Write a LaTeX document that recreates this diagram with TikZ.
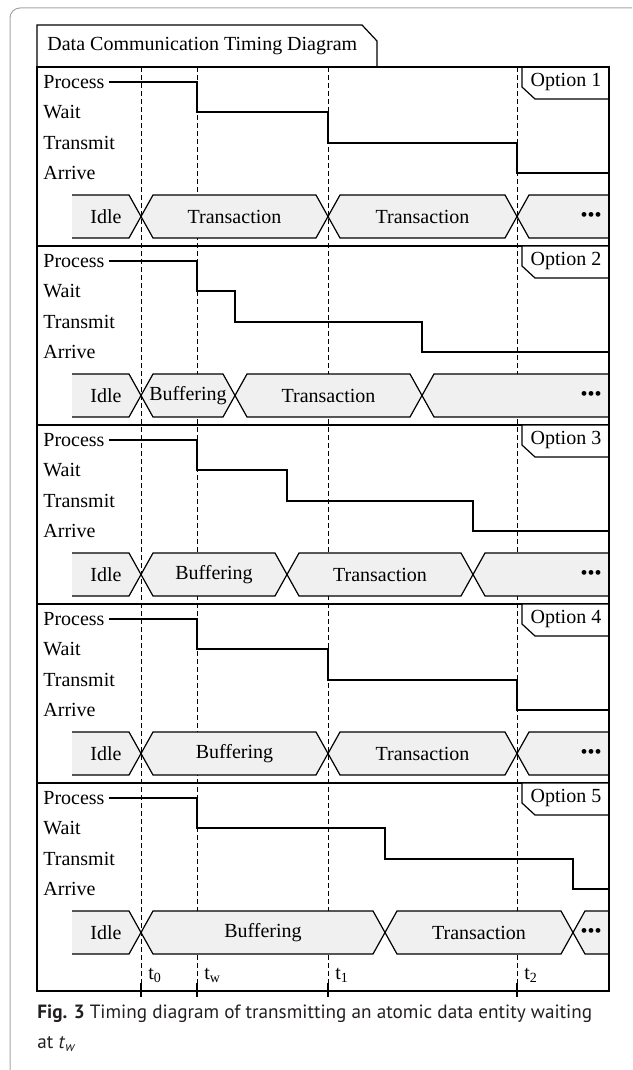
\documentclass[tikz,border=0pt]{standalone}
\usepackage{fontspec}
\setmainfont{Liberation Serif}
\newfontfamily\capfont{PT Sans}
\usetikzlibrary{positioning}

\definecolor{boxgray}{RGB}{240,240,240}
\definecolor{captext}{RGB}{35,31,32}

\tikzset{
	frameline/.style={line width=0.6pt},
	levelline/.style={line width=1.1pt},
	timeline/.style={line width=0.5pt, dash pattern=on 2.5pt off 1.5pt},
	hexbox/.style={fill=boxgray, draw, line width=0.6pt},
	siglabel/.style={anchor=west, inner sep=0pt},
}

\begin{document}
\begin{tikzpicture}[x=0.5pt, y=-0.5pt, font=\fontsize{10}{12}\selectfont]
	\useasboundingbox (0,0) rectangle (632,1070);
	\clip (0,0) rectangle (632,1070);
	% page border
	\draw[gray!70, line width=0.5pt, rounded corners=5pt] (10,8) rectangle (680,1120);

	% time markers
	\foreach \t/\x in {0/141, w/197, 1/328, 2/517} {
		\draw[timeline] (\x,67) -- (\x,983);
		\draw[frameline] (\x,983) -- (\x,997);
		\node[siglabel] (t\t) at (\x+7,975) {t\textsubscript{\t}};
	}

	% header
	\draw[frameline] (37,67) -- (37,25) -- (362,25) -- (377,41) -- (377,67);
	\node[siglabel] (title) at (47,46) {Data Communication Timing Diagram};

	% one panel per option
	\foreach \k/\xb/\xc/\nb in {1/328/517/Transaction, 2/235/422/Buffering, 3/287/473/Buffering, 4/328/517/Buffering, 5/385/573/Buffering} {
		\pgfmathsetmacro\py{67+179*(\k-1)}
		\pgfmathsetmacro\hm{\py+149.5}
		\draw[frameline] (37,\py) -- (609,\py);
		% state labels
		\node[siglabel] (proc\k) at (43,\py+15) {Process};
		\node[siglabel] (wait\k) at (43,\py+45) {Wait};
		\node[siglabel] (trans\k) at (43,\py+76) {Transmit};
		\node[siglabel] (arr\k) at (43,\py+106) {Arrive};
		\draw[levelline] ([xshift=2pt]proc\k.east) -- (197,\py+15) |- (\xb,\py+45)
			|- (\xc,\py+76) |- (609,\py+106);
		% bus row
		\fill[boxgray] (72,\py+128) -- (129,\py+128) -- (141,\hm) -- (129,\py+171) -- (72,\py+171) -- cycle;
		\draw[frameline] (72,\py+128) -- (129,\py+128) -- (141,\hm) -- (129,\py+171) -- (72,\py+171);
		\draw[hexbox] (141,\hm) -- (153,\py+128) -- (\xb-12,\py+128) -- (\xb,\hm)
			-- (\xb-12,\py+171) -- (153,\py+171) -- cycle;
		\draw[hexbox] (\xb,\hm) -- (\xb+12,\py+128) -- (\xc-12,\py+128) -- (\xc,\hm)
			-- (\xc-12,\py+171) -- (\xb+12,\py+171) -- cycle;
		\fill[boxgray] (\xc,\hm) -- (\xc+12,\py+128) -- (609,\py+128) -- (609,\py+171) -- (\xc+12,\py+171) -- cycle;
		\draw[frameline] (609,\py+128) -- (\xc+12,\py+128) -- (\xc,\hm) -- (\xc+12,\py+171) -- (609,\py+171);
		\node (idle\k) at (106,\hm) {Idle};
		\node (first\k) at ({(141+\xb)/2},\hm) {\nb};
		\node (second\k) at ({(\xb+\xc)/2},\hm) {Transaction};
		\node[anchor=east, inner sep=0pt] (more\k) at (602,\hm) {\textbullet\textbullet\textbullet};
		% option tag
		\draw[frameline, fill=white] (609,\py) -- (522,\py) -- (522,\py+20) -- (535,\py+32) -- (609,\py+32);
		\node (opt\k) at (566,\py+15) {Option \k};
	}

	\draw[frameline] (37,67) rectangle (609,991);

	\node[anchor=north west, align=left, inner sep=0pt, text=captext,
		font=\capfont\fontsize{9.6}{15}\selectfont] (caption) at (37,1004)
		{\textbf{Fig. 3} Timing diagram of transmitting an atomic data entity waiting\\
		at \textit{t}\textsubscript{\textit{w}}};
\end{tikzpicture}
\end{document}
